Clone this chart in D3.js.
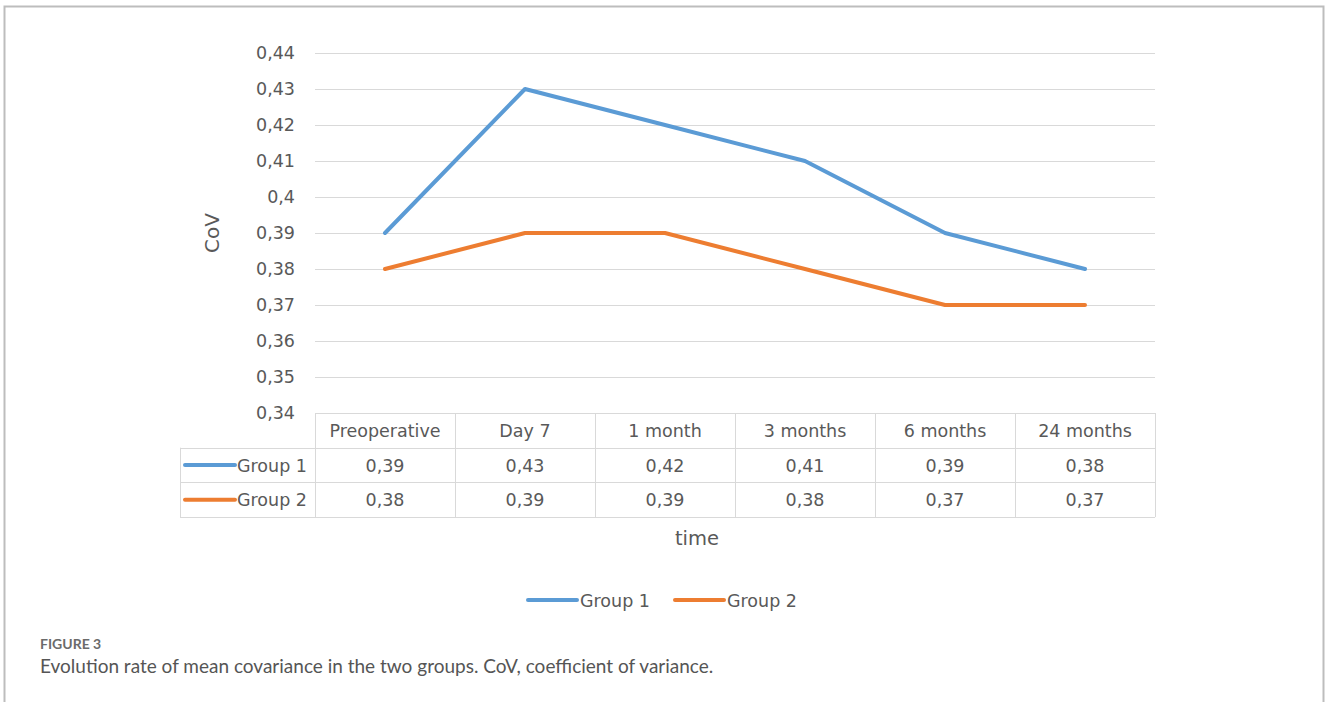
<!DOCTYPE html>
<html>
<head>
<meta charset="utf-8">
<script src="https://cdn.jsdelivr.net/npm/d3@7"></script>
<style>
  html, body { margin: 0; padding: 0; background: #fff; }
  svg { display: block; }
</style>
</head>
<body>
<svg id="chart" width="1328" height="702"></svg>
<script>
// Time points and CoV per group
const categories = ["Preoperative", "Day 7", "1 month", "3 months", "6 months", "24 months"];
const group1 = [0.39, 0.43, 0.42, 0.41, 0.39, 0.38];
const group2 = [0.38, 0.39, 0.39, 0.38, 0.37, 0.37];
const seriesNames = ["Group 1", "Group 2"];
const seriesColors = ["#5B9BD5", "#ED7D31"];
const yTicks = [0.34, 0.35, 0.36, 0.37, 0.38, 0.39, 0.40, 0.41, 0.42, 0.43, 0.44];

const fmt = v => String(+v.toFixed(2)).replace(".", ",");
const series = [group1, group2];

const svg = d3.select("#chart");
const font = "'DejaVu Sans', Verdana, sans-serif";
const fs = 17.5;
const textColor = "#595959";
const gridColor = "#d9d9d9";

// Figure frame
svg.append("path")
  .attr("d", "M4.5,702 V6.5 H1323.5 V702")
  .attr("fill", "none").attr("stroke", "#bdbdbd").attr("stroke-width", 2);

const plotLeft = 315, plotRight = 1155, plotTop = 53, plotBottom = 413;

const x = d3.scaleBand().domain(categories).range([plotLeft, plotRight]);
const y = d3.scaleLinear().domain([0.34, 0.44]).range([plotBottom, plotTop]);

// Horizontal gridlines
svg.append("g").selectAll("line").data(yTicks.slice(1)).join("line")
  .attr("x1", plotLeft).attr("x2", plotRight)
  .attr("y1", d => Math.round(y(d)) + 0.5).attr("y2", d => Math.round(y(d)) + 0.5)
  .attr("stroke", gridColor).attr("stroke-width", 1);

// Y axis labels
const yAxis = d3.axisLeft(y).tickValues(yTicks).tickFormat(fmt).tickSize(0).tickPadding(20);
const ya = svg.append("g").attr("transform", `translate(${plotLeft},0)`).call(yAxis);
ya.select(".domain").remove();
ya.selectAll("text").attr("font-family", font).attr("font-size", fs).attr("fill", textColor);

// Y axis title
svg.append("text")
  .attr("transform", "translate(219,233) rotate(-90)")
  .attr("text-anchor", "middle")
  .attr("font-family", font).attr("font-size", 20).attr("fill", textColor)
  .text("CoV");

// Data table beneath the plot
const rowH = 34.7;
const tableLeft = 180;
const tg = svg.append("g");
const hLines = [
  { y: plotBottom, x1: plotLeft, x2: plotRight },
  { y: plotBottom + rowH, x1: tableLeft, x2: plotRight },
  { y: plotBottom + 2 * rowH, x1: tableLeft, x2: plotRight },
  { y: plotBottom + 3 * rowH, x1: tableLeft, x2: plotRight }
];
tg.selectAll("line.h").data(hLines).join("line").attr("class", "h")
  .attr("x1", d => d.x1).attr("x2", d => d.x2)
  .attr("y1", d => Math.round(d.y) + 0.5).attr("y2", d => Math.round(d.y) + 0.5)
  .attr("stroke", gridColor);
const vxs = [plotLeft].concat(categories.map(c => x(c) + x.bandwidth()));
tg.selectAll("line.v").data(vxs).join("line").attr("class", "v")
  .attr("x1", d => d + 0.5).attr("x2", d => d + 0.5)
  .attr("y1", plotBottom).attr("y2", plotBottom + 3 * rowH)
  .attr("stroke", gridColor);
tg.append("line")
  .attr("x1", tableLeft + 0.5).attr("x2", tableLeft + 0.5)
  .attr("y1", plotBottom + rowH).attr("y2", plotBottom + 3 * rowH)
  .attr("stroke", gridColor);

// Header row
tg.selectAll("text.head").data(categories).join("text").attr("class", "head")
  .attr("x", d => x(d) + x.bandwidth() / 2)
  .attr("y", plotBottom + rowH / 2 + 6.5)
  .attr("text-anchor", "middle")
  .attr("font-family", font).attr("font-size", fs).attr("fill", textColor)
  .text(d => d);

// Value rows with legend keys
series.forEach((vals, i) => {
  const cy = plotBottom + rowH * (i + 1) + rowH / 2;
  tg.append("line")
    .attr("x1", 185).attr("x2", 235).attr("y1", cy).attr("y2", cy)
    .attr("stroke", seriesColors[i]).attr("stroke-width", 4).attr("stroke-linecap", "round");
  tg.append("text")
    .attr("x", 237).attr("y", cy + 6.5)
    .attr("font-family", font).attr("font-size", fs).attr("fill", textColor)
    .text(seriesNames[i]);
  tg.selectAll(null).data(vals).join("text")
    .attr("x", (d, j) => x(categories[j]) + x.bandwidth() / 2)
    .attr("y", cy + 6.5)
    .attr("text-anchor", "middle")
    .attr("font-family", font).attr("font-size", fs).attr("fill", textColor)
    .text(d => fmt(d));
});

// Lines
const line = d3.line()
  .x((d, j) => x(categories[j]) + x.bandwidth() / 2)
  .y(d => y(d));
series.forEach((vals, i) => {
  svg.append("path").datum(vals)
    .attr("d", line)
    .attr("fill", "none")
    .attr("stroke", seriesColors[i]).attr("stroke-width", 4)
    .attr("stroke-linejoin", "round").attr("stroke-linecap", "round");
});

// X axis title
svg.append("text")
  .attr("x", 697).attr("y", 545)
  .attr("text-anchor", "middle")
  .attr("font-family", font).attr("font-size", 19.5).attr("fill", textColor)
  .text("time");

// Legend
const legendItems = [{ x: 528 }, { x: 675 }];
legendItems.forEach((it, i) => {
  svg.append("line")
    .attr("x1", it.x).attr("x2", it.x + 49).attr("y1", 600).attr("y2", 600)
    .attr("stroke", seriesColors[i]).attr("stroke-width", 4).attr("stroke-linecap", "round");
  svg.append("text")
    .attr("x", it.x + 52).attr("y", 606.5)
    .attr("font-family", font).attr("font-size", fs).attr("fill", textColor)
    .text(seriesNames[i]);
});

// Caption
svg.append("text")
  .attr("x", 40).attr("y", 649)
  .attr("font-family", "Lato, 'Open Sans', sans-serif").attr("font-size", 14)
  .attr("font-weight", 700).attr("fill", "#6b6b6b")
  .text("FIGURE 3");
svg.append("text")
  .attr("x", 40).attr("y", 673)
  .attr("font-family", "Lato, 'Open Sans', sans-serif").attr("font-size", 19)
  .attr("fill", "#555")
  .text("Evolution rate of mean covariance in the two groups. CoV, coefficient of variance.");
</script>
</body>
</html>
